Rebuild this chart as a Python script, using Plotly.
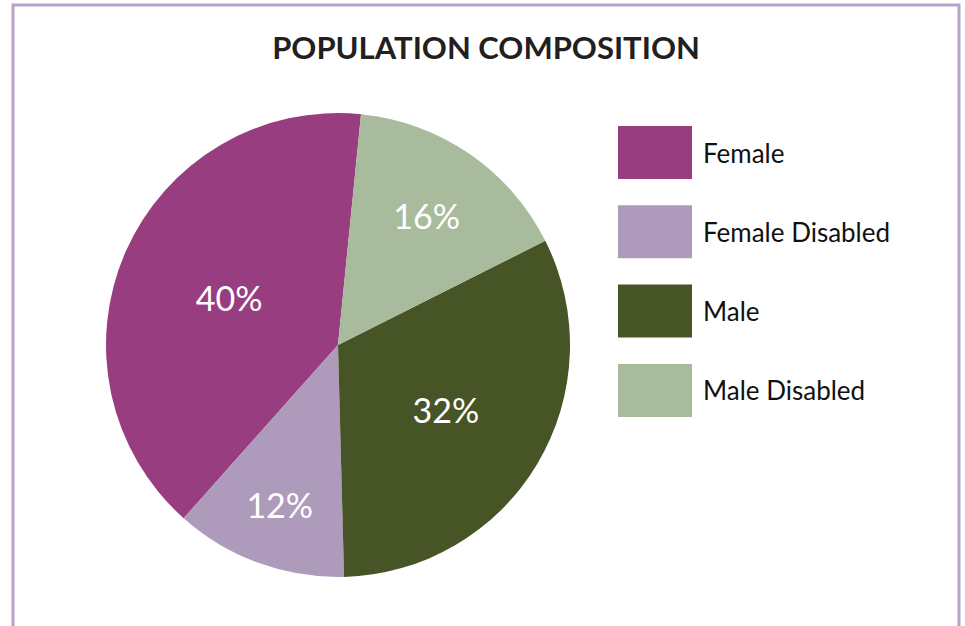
import plotly.graph_objects as go

# ---- data ----
labels = ["Female", "Female Disabled", "Male", "Male Disabled"]
values = [40, 12, 32, 16]
colors = ["#993d81", "#ae9bbb", "#475426", "#a8bb9c"]
title_text = "POPULATION COMPOSITION"

W, H = 965, 626
FONT = "Lato, 'Open Sans', sans-serif"


def px(x):
    return x / W


def py(y):
    return (H - y) / H


# boundary angle (clockwise from 12 o'clock) where the last slice meets the first
end_angle = 5.7
rotation = end_angle - 360 * values[0] / sum(values)

fig = go.Figure()
fig.add_trace(go.Pie(
    labels=labels,
    values=values,
    sort=False,
    direction="counterclockwise",
    rotation=rotation,
    marker=dict(colors=colors, line=dict(width=0)),
    texttemplate="%{percent:.0%}",
    textposition="inside",
    insidetextorientation="horizontal",
    textfont=dict(family=FONT, size=34, color="white"),
    domain=dict(x=[px(106), px(570)], y=[py(577), py(113)]),
    showlegend=False,
    hoverinfo="label+percent",
))

shapes = []
annotations = []
# frame (open at the bottom)
shapes.append(dict(type="rect", xref="paper", yref="paper",
                   x0=px(13), x1=px(959), y0=-0.2, y1=py(5),
                   line=dict(color="#b9a2c8", width=3), fillcolor="rgba(0,0,0,0)", layer="below"))

# custom legend
box_x0, box_x1 = 618, 692
box_top0, box_h, step = 126, 53, 79.3
for i, (lab, col) in enumerate(zip(labels, colors)):
    top = box_top0 + i * step
    bot = top + box_h
    shapes.append(dict(type="rect", xref="paper", yref="paper",
                       x0=px(box_x0), x1=px(box_x1),
                       y0=py(bot), y1=py(top),
                       line=dict(width=0), fillcolor=col))
    annotations.append(dict(x=px(701), y=py((top + bot) / 2), xref="paper", yref="paper",
                            xanchor="left", yanchor="middle", text=lab, showarrow=False,
                            font=dict(family=FONT, size=26, color="#111111")))

fig.update_layout(
    width=W, height=H,
    margin=dict(l=0, r=0, t=0, b=0),
    paper_bgcolor="white",
    plot_bgcolor="white",
    title=dict(text="<b>" + title_text + "</b>", x=px(486), xanchor="center",
               y=py(48), yanchor="middle",
               font=dict(family=FONT, size=31, color="#231f20")),
    shapes=shapes,
    annotations=annotations,
)

fig.write_html(
    "out.html",
    config={"displayModeBar": False},
    post_script="document.body.style.margin='0';document.body.style.overflow='hidden';",
)
